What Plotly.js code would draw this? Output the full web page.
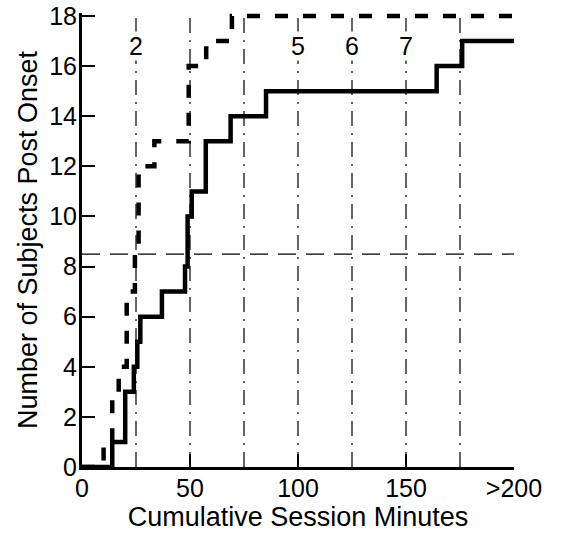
<!DOCTYPE html>
<html>
<head>
<meta charset="utf-8">
<script src="https://cdn.plot.ly/plotly-3.0.1.min.js"></script>
<style>html,body{margin:0;padding:0;background:#fff;}#chart{width:570px;height:533px;}</style>
</head>
<body>
<div id="chart"></div>
<script>
// Solid series (step curve): cumulative minutes vs subjects
const solidX = [0, 14, 20, 24, 25.6, 27, 37, 47.7, 48.9, 50.8, 57.3, 68.8, 85.2, 164.2, 176, 200];
const solidY = [0, 1, 3, 4, 5, 6, 7, 8, 10, 11, 13, 14, 15, 16, 17, 17];
// Dashed series (step curve)
const dashX = [0, 10, 14, 17, 20.7, 24.5, 26.2, 33.5, 49.4, 57.5, 69.4, 200];
const dashY = [0, 1, 3, 4, 7, 9, 12, 13, 16, 17, 18, 18];
// Vertical session markers
const vlineX = [25, 50, 75, 100, 125, 150, 175];
const vlineTop = 18;
// Session labels
const sessLabelX = [25, 100, 125, 150];
const sessLabelText = ['2', '5', '6', '7'];
const sessLabelY = 16.8;
// Horizontal threshold
const hlineY = 8.5;
const hlineX = [0, 200];
// Tick labels
const xTickVals = [0, 50, 100, 150, 200];
const xTickText = ['0', '50', '100', '150', '>200'];
const yTickVals = [0, 2, 4, 6, 8, 10, 12, 14, 16, 18];

const FONT = 'Liberation Sans, Arial, Helvetica, sans-serif';

const vx = [], vy = [];
vlineX.forEach(x => { vx.push(x, x, null); vy.push(0, vlineTop, null); });

const traces = [
  {x: vx, y: vy, mode: 'lines', line: {color: '#000', width: 1.2, dash: '15px,7px,2px,7px'}, hoverinfo: 'skip', showlegend: false},
  {x: hlineX, y: [hlineY, hlineY], mode: 'lines', line: {color: '#000', width: 1.2, dash: '18px,10px'}, hoverinfo: 'skip', showlegend: false},
  {x: dashX, y: dashY, mode: 'lines', line: {color: '#000', width: 4.5, shape: 'hv', dash: '13px,15px'}, showlegend: false},
  {x: solidX, y: solidY, mode: 'lines', line: {color: '#000', width: 4.5, shape: 'hv'}, showlegend: false}
];

const annotations = sessLabelX.map((x, i) => ({
  x: x, y: sessLabelY, xref: 'x', yref: 'y', text: sessLabelText[i], showarrow: false,
  font: {family: FONT, size: 25, color: '#000'}, bgcolor: '#fff', borderpad: 0
}));

const layout = {
  width: 570, height: 533,
  margin: {l: 82, r: 56, t: 13, b: 66, pad: 0},
  paper_bgcolor: '#fff', plot_bgcolor: '#fff',
  showlegend: false,
  font: {family: FONT, size: 25, color: '#000'},
  xaxis: {
    range: [0, 200], tickvals: xTickVals, ticktext: xTickText,
    ticks: 'inside', ticklen: 13, tickwidth: 2, tickcolor: '#000',
    showline: true, linewidth: 3, linecolor: '#000', mirror: false,
    showgrid: false, zeroline: false, ticklabelstandoff: -3,
    tickfont: {family: FONT, size: 25, color: '#000'},
    title: {text: 'Cumulative Session Minutes', font: {family: FONT, size: 27, color: '#000'}, standoff: 0},
    automargin: false
  },
  yaxis: {
    range: [0, 18.12], tickvals: yTickVals,
    ticks: 'inside', ticklen: 13, tickwidth: 2, tickcolor: '#000',
    showline: true, linewidth: 3, linecolor: '#000', mirror: false,
    showgrid: false, zeroline: false, ticklabelstandoff: -3,
    tickfont: {family: FONT, size: 25, color: '#000'},
    title: {text: 'Number of Subjects Post Onset', font: {family: FONT, size: 27, color: '#000'}, standoff: 4},
    automargin: false
  },
  annotations: annotations
};

Plotly.newPlot('chart', traces, layout, {displayModeBar: false, staticPlot: true});
</script>
</body>
</html>
